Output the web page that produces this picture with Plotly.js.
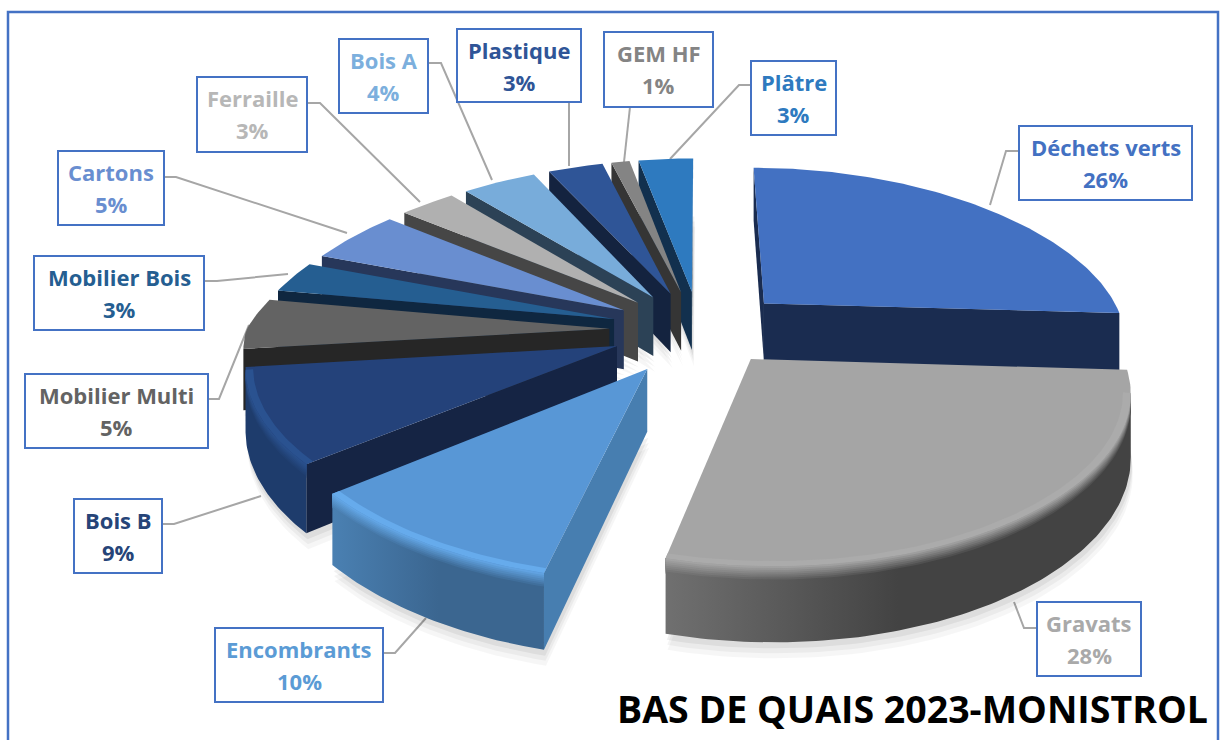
<!DOCTYPE html>
<html>
<head>
<meta charset="utf-8">
<script src="https://cdn.plot.ly/plotly-3.0.1.min.js"></script>
<style>html,body{margin:0;padding:0;background:#fff;overflow:hidden}</style>
</head>
<body>
<div id="chart" style="width:1220px;height:740px"></div>
<script>
// ---------- data ----------
var categories = ["Déchets verts","Gravats","Encombrants","Bois B","Mobilier Multi","Mobilier Bois","Cartons","Ferraille","Bois A","Plastique","GEM HF","Plâtre"];
var values = [26,28,10,9,5,3,5,3,4,3,1,3];
var chartTitle = "BAS DE QUAIS 2023-MONISTROL";

// ---------- styles ----------
var topColors  = ["#4371c2","#a5a5a5","#5897d6","#24427a","#636363","#255e91","#698ed0","#b0b0b0","#78acda","#2f5597","#848484","#2e7abf"];
var wallColors = ["#1a2c50","#a5a5a5","#477eb0","#152444","#262626","#0f2740","#27375a","#464646","#2c4256","#14233f","#353535","#12304e"];
var arcLeft    = ["#1a2c50","#707070","#4a80b2","#1e3c6c","#2a2a2a","#0f2740","#27375a","#464646","#2c4256","#14233f","#353535","#12304e"];
var arcRight   = ["#1a2c50","#434343","#3b6690","#1e3c6c","#2a2a2a","#0f2740","#27375a","#464646","#2c4256","#14233f","#353535","#12304e"];
var rimColors  = ["#4371c2","#ababab","#66abec","#2a5290","#636363","#255e91","#698ed0","#b0b0b0","#78acda","#2f5597","#848484","#2e7abf"];
var labelColors= ["#4371c2","#a9a9a9","#5b9bd5","#264478","#636363","#255e91","#698ed0","#b7b7b7","#7cafdd","#2f5597","#848484","#2e7abf"];

// ---------- label layout: [left, right, top, bottom] of each box, and its leader ----------
var boxes = [[1019,1192,126,200],[1037,1141,602,676],[215,383,628,702],[74,162,499,573],[25,208,374,448],[34,204,256,330],[58,164,151,225],[197,307,77,152],[339,428,39,113],[457,581,29,102],[604,713,32,107],[751,836,61,135]];
var leaders = [
 [[1019,151],[1006,151],[990,205]],
 [[1037,628],[1024,628],[1014,602]],
 [[383,653],[395,653],[426,618]],
 [[162,524],[174,524],[261,496]],
 [[208,399],[219,399],[249,325]],
 [[204,281],[217,281],[288,274]],
 [[164,177],[176,177],[347,233]],
 [[307,103],[320,103],[420,202]],
 [[428,63],[441,63],[492,180]],
 [[569,102],[569,166]],
 [[630,107],[624,162]],
 [[751,85],[739,85],[670,159]]
];

// ---------- projection of the tilted exploded pie onto the page ----------
var cx=700, cy=330, Rx=363, Ry=158, perspFront=0.18, perspFrontX=0.14, perspBack=0.12, perspBackX=0.2, shear=15, depth=60;
var explode=[0.25,0.22,0.28,0.25,0.25,0.25,0.25,0.25,0.25,0.25,0.25,0.25];
function project(rad,theta,pull,mid,z){
  var X=rad*Math.sin(theta)+pull*Math.sin(mid);
  var Y=-rad*Math.cos(theta)-pull*Math.cos(mid);
  var s=1/(1-(Y>0?perspFront:perspBack)*Y);
  var sx=1/(1-(Y>0?perspFrontX:perspBackX)*Y);
  return [cx+Rx*X*sx+shear*Math.max(0,Y), cy+Ry*Y*s+z*depth*s];
}
function cross(a,b,c){return (b[0]-a[0])*(c[1]-a[1])-(b[1]-a[1])*(c[0]-a[0]);}
function faces(a,b,inside){
  var d=[a[0],a[1]+1];
  return cross(a,b,inside)*cross(a,b,d)<0;
}
function mix(c1,c2,t){
  var p=function(c,i){return parseInt(c.substr(1+2*i,2),16);};
  var o=[0,1,2].map(function(i){return Math.round(p(c1,i)*(1-t)+p(c2,i)*t);});
  return "rgb("+o.join(",")+")";
}

var total=values.reduce(function(a,b){return a+b;},0);
var slices=[], acc=0;
values.forEach(function(v,i){
  var a0=acc/total*2*Math.PI; acc+=v; var a1=acc/total*2*Math.PI;
  slices.push({i:i,a0:a0,a1:a1,mid:(a0+a1)/2});
});
var order=slices.slice().sort(function(a,b){return Math.cos(b.mid)-Math.cos(a.mid);});

var traces=[];
function poly(pts,color,extra){
  var t={type:"scatter",mode:"lines",x:pts.map(function(p){return p[0];}).concat([pts[0][0]]),
    y:pts.map(function(p){return p[1];}).concat([pts[0][1]]),fill:"toself",fillcolor:color,
    line:{width:0,color:color},hoverinfo:"skip",showlegend:false};
  if(extra){for(var k in extra){t[k]=extra[k];}}
  traces.push(t);
}

// soft shadow under the front part of the pie
order.forEach(function(sl){
  var steps=Math.max(6,Math.round((sl.a1-sl.a0)*40));
  [[5,16,0.035],[4,11,0.045],[3,6,0.06]].forEach(function(sh){
    var pts=[project(0,0,explode[sl.i],sl.mid,1)];
    for(var j=0;j<=steps;j++){pts.push(project(1,sl.a0+(sl.a1-sl.a0)*j/steps,explode[sl.i],sl.mid,1));}
    poly(pts.map(function(p){return [p[0]+sh[0]*0.4,p[1]+sh[1]];}),"rgba(0,0,0,"+sh[2]+")");
  });
});

order.forEach(function(sl){
  var i=sl.i, steps=Math.max(8,Math.round((sl.a1-sl.a0)*60));
  var P=function(r,a,z){return project(r,a,explode[i],sl.mid,z);};
  var apex=P(0,0,0), midPt=P(1,sl.mid,0);
  var arc=[];
  for(var j=0;j<=steps;j++){arc.push(sl.a0+(sl.a1-sl.a0)*j/steps);}

  // the two radial cut faces
  [sl.a0,sl.a1].forEach(function(a){
    var b=P(1,a,0);
    if(faces(apex,b,midPt)){
      poly([apex,b,P(1,a,1),P(0,0,1)],wallColors[i]);
    }
  });
  // outer wall, only its part facing the viewer
  var vis=[];
  for(var k=0;k<arc.length-1;k++){
    if(faces(P(1,arc[k],0),P(1,arc[k+1],0),apex)){
      if(vis.length===0){vis.push(arc[k]);}
      vis.push(arc[k+1]);
    }
  }
  if(vis.length>1){
    var wall=vis.map(function(a){return P(1,a,0);}).concat(vis.slice().reverse().map(function(a){return P(1,a,1);}));
    var leftLight=(i===1||i===2);
    var scaleFor=function(t){
      var L=mix(rimColors[i],arcLeft[i],t), R=mix(rimColors[i],arcRight[i],t);
      return leftLight?[[0,L],[0.5,R],[1,R]]:[[0,L],[1,R]];
    };
    poly(wall,arcRight[i],{fillgradient:{type:"horizontal",colorscale:scaleFor(1)}});
    // bevel between the top and the wall
    var n=8;
    for(var b=n-1;b>=0;b--){
      var z=0.2*(b+1)/n;
      var band=vis.map(function(a){return P(1,a,0);}).concat(vis.slice().reverse().map(function(a){return P(1,a,z);}));
      poly(band,arcRight[i],{fillgradient:{type:"horizontal",colorscale:scaleFor((b+1)/n)}});
    }
  }
  // top face
  var top=[apex].concat(arc.map(function(a){return P(1,a,0);}));
  poly(top,topColors[i]);
  if(vis.length>1 && rimColors[i]!==topColors[i]){
    var rim=vis.map(function(a){return P(1,a,0);}).concat(vis.slice().reverse().map(function(a){return P(0.98,a,0);}));
    poly(rim,rimColors[i]);
  }
});

// ---------- page furniture ----------
var shapes=[
  {type:"path",path:"M8,740 L8,12 L1218,12 L1218,740",xref:"x",yref:"y",line:{color:"#4472c4",width:2.5},layer:"below"}
];
leaders.forEach(function(l){
  shapes.push({type:"path",xref:"x",yref:"y",layer:"below",line:{color:"#a6a6a6",width:2},
    path:l.map(function(p,j){return (j?"L":"M")+p[0]+","+p[1];}).join(" ")});
});
var annotations=[];
categories.forEach(function(c,i){
  var b=boxes[i];
  shapes.push({type:"rect",xref:"x",yref:"y",x0:b[0],x1:b[1],y0:b[2],y1:b[3],fillcolor:"#ffffff",line:{color:"#4472c4",width:2},layer:"above"});
  var mx=(b[0]+b[1])/2;
  var f={family:"Open Sans, sans-serif",size:22,color:labelColors[i],weight:700};
  annotations.push({x:mx,y:b[2]+21,xref:"x",yref:"y",text:c,showarrow:false,font:f,xanchor:"center",yanchor:"middle"});
  annotations.push({x:mx,y:b[2]+53,xref:"x",yref:"y",text:values[i]+"%",showarrow:false,font:f,xanchor:"center",yanchor:"middle"});
});
annotations.push({x:1210,y:708,xref:"x",yref:"y",text:chartTitle,showarrow:false,xanchor:"right",yanchor:"middle",
  font:{family:"Open Sans, sans-serif",size:37.5,color:"#000000",weight:700}});

var layout={width:1220,height:740,margin:{l:0,r:0,t:0,b:0},paper_bgcolor:"#ffffff",plot_bgcolor:"#ffffff",showlegend:false,
  xaxis:{range:[0,1220],visible:false,fixedrange:true},
  yaxis:{range:[740,0],visible:false,fixedrange:true},
  shapes:shapes,annotations:annotations};
Plotly.newPlot("chart",traces,layout,{displayModeBar:false,staticPlot:true});
</script>
</body>
</html>
